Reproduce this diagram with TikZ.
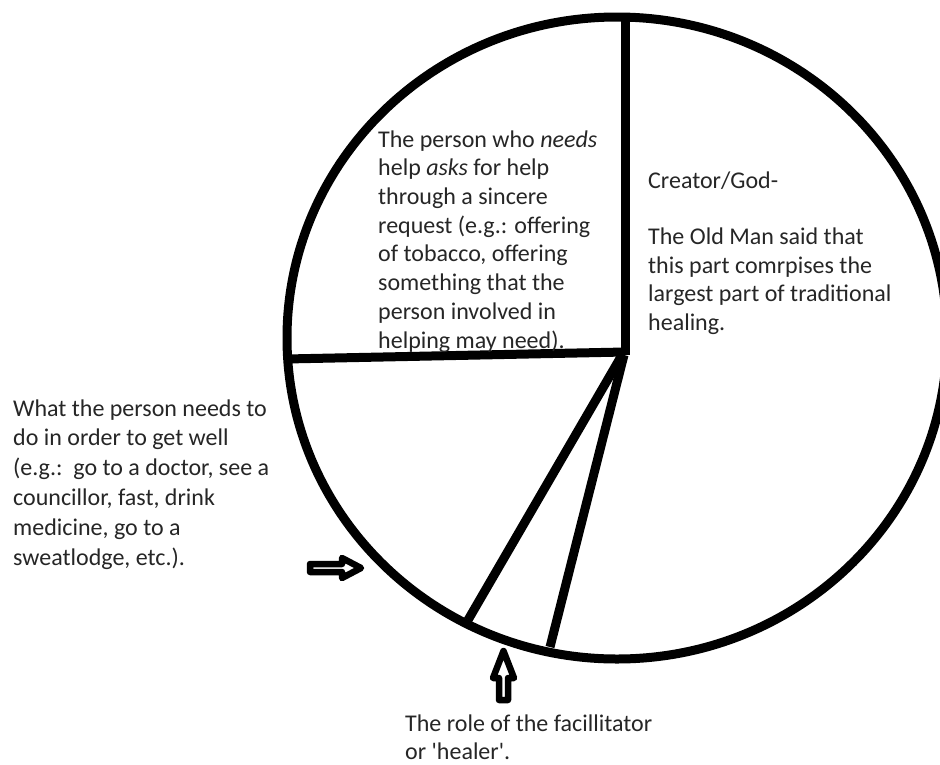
\documentclass[tikz,border=0pt]{standalone}
\usepackage{fontspec}
\setmainfont{Carlito}
\newfontfamily\carlito{Carlito}
\begin{document}
\begin{tikzpicture}[x=1pt,y=-1pt,
  txt/.style={text=black!85, align=left, inner sep=0pt, anchor=base west},
  pie/.style={line width=9pt},
  blockarrow/.style={draw=black, fill=white, line width=6.5pt, line join=round}]
\useasboundingbox (0,0) rectangle (940,764);
\fill[white] (0,0) rectangle (940,764);
% pie outline
\coordinate (c) at (617,338);
\draw[pie] (c) ellipse [x radius=330, y radius=321];
% dividing lines
\coordinate (top) at (625,15);
\coordinate (hub) at (625,352);
\coordinate (hubv) at (625,355);
\coordinate (left) at (286,359);
\coordinate (s1) at (468,620);
\coordinate (s2) at (550,647);
\draw[pie] (top) -- (hubv);
\draw[pie] (left) -- (hub);
\draw[pie] (622,355) -- (s1);
\draw[pie] (624,355) -- (s2);
% block arrows
\draw[blockarrow] (310,564) -- (342,564) -- (342,558) -- (361,568) -- (342,578) -- (342,572) -- (310,572) -- cycle;
\draw[blockarrow] (499,700) -- (499,678) -- (493,678) -- (503.5,651) -- (514,678) -- (508,678) -- (508,700) -- cycle;
% texts (anchored at the baseline of the last line)
\node[txt, font=\carlito\fontsize{24}{28.7}\selectfont] (t1) at (378,348) {The person who \textit{needs}\\help \textit{asks} for help\\through a sincere\\request (e.g.: offering\\of tobacco, offering\\something that the\\person involved in\\helping may need).};
\node[txt, font=\carlito\fontsize{24}{28.4}\selectfont] (t2) at (648,330) {Creator/God-\\\mbox{}\\The Old Man said that\\this part comrpises the\\largest part of traditional\\healing.};
\node[txt, font=\carlito\fontsize{24}{29.8}\selectfont] (t3) at (13,565) {What the person needs to\\do in order to get well\\(e.g.:\ \ go to a doctor, see a\\councillor, fast, drink\\medicine, go to a\\sweatlodge, etc.).};
\node[txt, font=\carlito\fontsize{24}{28}\selectfont] (t4) at (405,759) {The role of the facillitator\\or 'healer'.};
\end{tikzpicture}
\end{document}
